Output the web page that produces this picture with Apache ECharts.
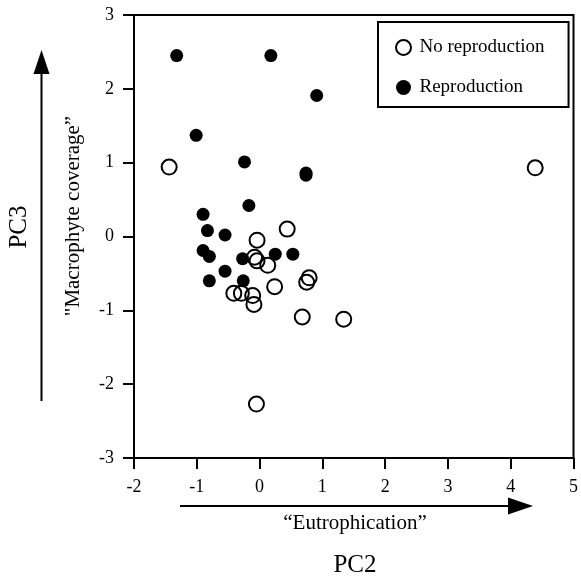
<!DOCTYPE html>
<html>
<head>
<meta charset="utf-8">
<script src="https://cdn.jsdelivr.net/npm/echarts@6/dist/echarts.min.js"></script>
<style>
html,body{margin:0;padding:0;background:#fff;}
#chart{width:581px;height:579px;}
</style>
</head>
<body>
<div id="chart"></div>
<script>
// Data (PC2, PC3)
const noReproduction = [
  [-1.44, 0.94], [4.39, 0.93], [0.44, 0.10], [-0.04, -0.05], [-0.08, -0.28],
  [-0.04, -0.33], [0.13, -0.39], [0.79, -0.56], [0.75, -0.62], [0.24, -0.68],
  [-0.41, -0.77], [-0.29, -0.77], [-0.11, -0.80], [-0.09, -0.92], [0.68, -1.09],
  [1.34, -1.12], [-0.05, -2.27]
];
const reproduction = [
  [-1.32, 2.45], [0.18, 2.45], [0.91, 1.91], [-1.01, 1.37], [-0.24, 1.01],
  [0.74, 0.86], [0.74, 0.83], [-0.17, 0.42], [-0.90, 0.30], [-0.83, 0.08],
  [-0.55, 0.02], [-0.90, -0.19], [-0.80, -0.27], [-0.27, -0.30], [0.25, -0.24],
  [0.53, -0.24], [-0.55, -0.47], [-0.80, -0.60], [-0.26, -0.60]
];
const seriesNames = ['No reproduction', 'Reproduction'];
const xTicks = {min: -2, max: 5, interval: 1};
const yTicks = {min: -3, max: 3, interval: 1};
const xLabel = '\u201CEutrophication\u201D';
const xTitle = 'PC2';
const yLabel = '"Macrophyte coverage\u201D';
const yTitle = 'PC3';

const FONT = '"Liberation Serif", "Times New Roman", serif';
const chart = echarts.init(document.getElementById('chart'), null, {renderer: 'canvas'});

const axisCommon = {
  axisLine: {show: true, onZero: false, lineStyle: {color: '#000', width: 2}},
  axisTick: {show: true, inside: false, length: 11, lineStyle: {color: '#000', width: 2}},
  splitLine: {show: false},
  axisLabel: {color: '#000', fontFamily: FONT, fontSize: 18}
};

chart.setOption({
  backgroundColor: '#fff',
  animation: false,
  grid: {left: 134, right: 4, top: 15, bottom: 121, show: true, borderColor: '#000', borderWidth: 2},
  xAxis: Object.assign({}, axisCommon, {
    type: 'value', min: xTicks.min, max: xTicks.max, interval: xTicks.interval,
    axisLabel: Object.assign({}, axisCommon.axisLabel, {margin: 20})
  }),
  yAxis: Object.assign({}, axisCommon, {
    type: 'value', min: yTicks.min, max: yTicks.max, interval: yTicks.interval,
    axisLabel: Object.assign({}, axisCommon.axisLabel, {margin: 20})
  }),
  legend: {
    orient: 'vertical', left: 378, top: 22,
    padding: [16, 24, 10, 17],
    itemGap: 21, itemWidth: 22, itemHeight: 15,
    borderColor: '#000', borderWidth: 2, backgroundColor: '#fff',
    textStyle: {color: '#000', fontFamily: FONT, fontSize: 19},
    data: seriesNames
  },
  series: [
    {
      name: seriesNames[1], type: 'scatter', data: reproduction, symbol: 'circle', symbolSize: 13,
      itemStyle: {color: '#000', opacity: 1}, z: 2
    },
    {
      name: seriesNames[0], type: 'scatter', data: noReproduction, symbol: 'circle', symbolSize: 15,
      itemStyle: {color: 'rgba(0,0,0,0)', borderColor: '#000', borderWidth: 2, opacity: 1}, z: 3
    }
  ],
  graphic: [
    // vertical arrow
    {type: 'line', shape: {x1: 41.5, y1: 401, x2: 41.5, y2: 70}, style: {stroke: '#000', lineWidth: 2}},
    {type: 'polygon', shape: {points: [[41.5, 50], [33.5, 74], [49.5, 74]]}, style: {fill: '#000'}},
    // horizontal arrow
    {type: 'line', shape: {x1: 180, y1: 506, x2: 512, y2: 506}, style: {stroke: '#000', lineWidth: 2}},
    {type: 'polygon', shape: {points: [[533, 506], [508, 497.5], [508, 514.5]]}, style: {fill: '#000'}},
    {type: 'text', x: 355, y: 523, style: {text: xLabel, fill: '#000', font: '21px ' + FONT, textAlign: 'center', textVerticalAlign: 'middle'}},
    {type: 'text', x: 355, y: 565, style: {text: xTitle, fill: '#000', font: '25px ' + FONT, textAlign: 'center', textVerticalAlign: 'middle'}},
    {type: 'text', x: 73, y: 216, rotation: Math.PI / 2, style: {text: yLabel, fill: '#000', font: '21px ' + FONT, textAlign: 'center', textVerticalAlign: 'middle'}},
    {type: 'text', x: 19, y: 227, rotation: Math.PI / 2, style: {text: yTitle, fill: '#000', font: '25px ' + FONT, textAlign: 'center', textVerticalAlign: 'middle'}}
  ]
});
</script>
</body>
</html>
